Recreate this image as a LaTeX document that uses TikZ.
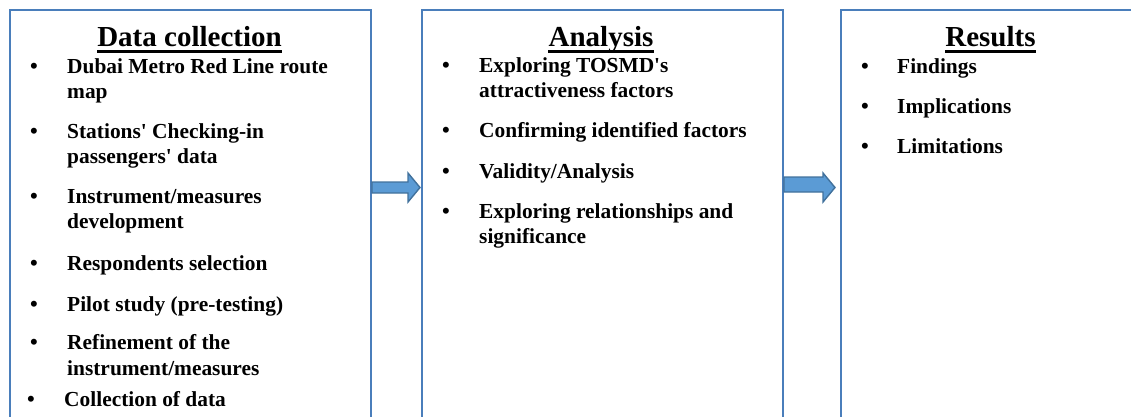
\documentclass[tikz,border=0pt]{standalone}
\usepackage{fontspec}
\newfontfamily\rf{Liberation Serif}
\usetikzlibrary{calc}
\definecolor{boxblue}{RGB}{74,126,187}
\definecolor{arrfill}{RGB}{91,155,213}
\definecolor{arrline}{RGB}{65,113,156}
\begin{document}
\begin{tikzpicture}[x=1pt,y=-1pt,
  stage/.style={draw=boxblue,line width=2pt,inner sep=0pt,anchor=north west},
  ttl/.style={inner sep=0pt,anchor=base,font=\rf\fontsize{29}{32}\selectfont\bfseries},
  txt/.style={inner sep=0pt,anchor=base west,font=\rf\fontsize{21.4}{24}\selectfont\bfseries},
  bul/.style={inner sep=0pt,anchor=base,font=\rf\fontsize{22}{24}\selectfont\bfseries},
  uline/.style={line width=2.5pt},
  flow/.style={draw=arrline,fill=arrfill,line width=1.4pt,line join=miter}]
\useasboundingbox (0,0) rectangle (1131,416);
\clip (0,0) rectangle (1131,416);
% boxes
\node[stage,minimum width=361,minimum height=440] (b1) at (9,9) {};
\node[stage,minimum width=361,minimum height=440] (b2) at (421,9) {};
\node[stage,minimum width=320,minimum height=440] (b3) at (840,9) {};
% arrows
\draw[flow] ($(b1.north east)+(0,173)$) -- ($(b1.north east)+(36,173)$)
  -- ($(b1.north east)+(36,164)$) -- ($(b2.north west)+(-1,178.5)$)
  -- ($(b1.north east)+(36,193)$) -- ($(b1.north east)+(36,184)$)
  -- ($(b1.north east)+(0,184)$) -- cycle;
\draw[flow] ($(b2.north east)+(0,168)$) -- ($(b2.north east)+(39,168)$)
  -- ($(b2.north east)+(39,164)$) -- ($(b3.north west)+(-5,178.5)$)
  -- ($(b2.north east)+(39,193)$) -- ($(b2.north east)+(39,183)$)
  -- ($(b2.north east)+(0,183)$) -- cycle;
% titles
\node[ttl] (t1) at (189.5,46) {Data collection};
\node[ttl] (t2) at (601,46) {Analysis};
\node[ttl] (t3) at (990.5,46) {Results};
\foreach \t in {t1,t2,t3}{
  \draw[uline] ($(\t.base west)+(0,5.5)$) -- ($(\t.base east)+(0,5.5)$);
}
% box 1 items
\node[bul] (p1) at (34,73) {•};
\node[txt] (l1a) at (67,73) {Dubai Metro Red Line route};
\node[txt] (l1b) at (67,98) {map};
\node[bul] (p2) at (34,138) {•};
\node[txt] (l2a) at (67,138) {Stations' Checking-in};
\node[txt] (l2b) at (67,163) {passengers' data};
\node[bul] (p3) at (34,203) {•};
\node[txt] (l3a) at (67,203) {Instrument/measures};
\node[txt] (l3b) at (67,228) {development};
\node[bul] (p4) at (34,270) {•};
\node[txt] (l4) at (67,270) {Respondents selection};
\node[bul] (p5) at (34,311) {•};
\node[txt] (l5) at (67,311) {Pilot study (pre-testing)};
\node[bul] (p6) at (34,349) {•};
\node[txt] (l6a) at (67,349) {Refinement of the};
\node[txt] (l6b) at (67,375) {instrument/measures};
\node[bul] (p7) at (31,406) {•};
\node[txt] (l7) at (64,406) {Collection of data};
% box 2 items
\node[bul] (q1) at (446,72) {•};
\node[txt] (m1a) at (479,72) {Exploring TOSMD's};
\node[txt] (m1b) at (479,97) {attractiveness factors};
\node[bul] (q2) at (446,137) {•};
\node[txt] (m2) at (479,137) {Confirming identified factors};
\node[bul] (q3) at (446,178) {•};
\node[txt] (m3) at (479,178) {Validity/Analysis};
\node[bul] (q4) at (446,218) {•};
\node[txt] (m4a) at (479,218) {Exploring relationships and};
\node[txt] (m4b) at (479,243) {significance};
% box 3 items
\node[bul] (r1) at (865,73) {•};
\node[txt] (n1) at (897,73) {Findings};
\node[bul] (r2) at (865,113) {•};
\node[txt] (n2) at (897,113) {Implications};
\node[bul] (r3) at (865,153) {•};
\node[txt] (n3) at (897,153) {Limitations};
\end{tikzpicture}
\end{document}
